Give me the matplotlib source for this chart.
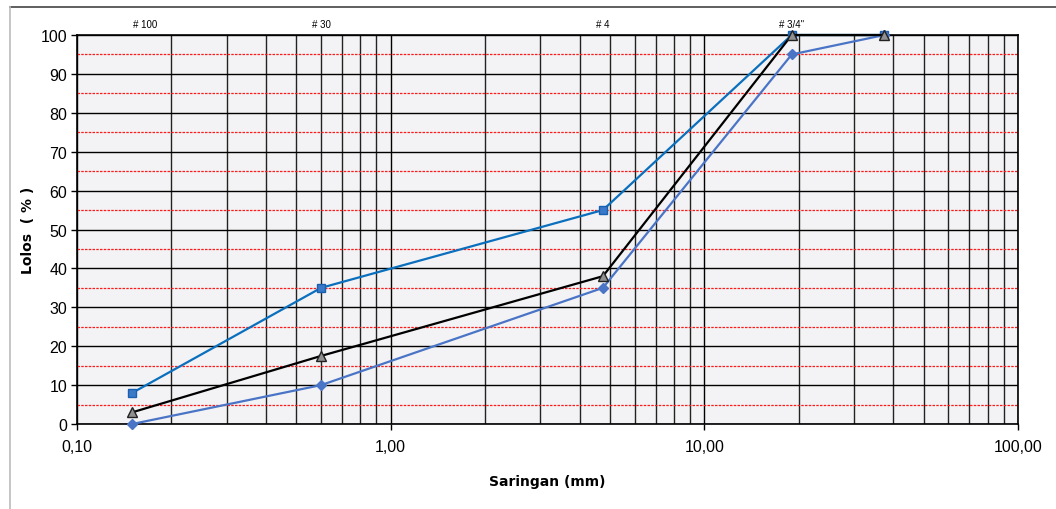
"""
Grafik gradasi agregat - persen lolos vs ukuran saringan (skala log).
"""
import numpy as np
import matplotlib.pyplot as plt
from matplotlib.lines import Line2D
from matplotlib.ticker import FixedLocator, FuncFormatter, LogLocator

# ukuran saringan (mm)
sieve_mm = [0.15, 0.6, 4.75, 19.0, 37.5]
sieve_names = ["# 100", "# 30", "# 4", "# 3/4\""]
sieve_label_x = [0.165, 0.6, 4.75, 19.0]

# persen lolos
batas_atas = [8, 35, 55, 100, 100]
gabungan = [3, 17.5, 38, 100, 100]
batas_bawah = [0, 10, 35, 95, 100]

W, H = 1056, 510
fig = plt.figure(figsize=(W / 100, H / 100), dpi=100, facecolor="white")
ax = fig.add_axes([77 / W, 1 - 425 / H, (1018 - 77) / W, (425 - 36) / H])
ax.set_facecolor("#f3f3f5")

ax.set_xscale("log")
ax.set_xlim(0.1, 100)
ax.set_ylim(0, 100)

# grid: vertikal tiap pembagian log, horizontal hitam tiap 10 dan merah tiap 5
ax.xaxis.set_major_locator(FixedLocator([0.1, 1, 10, 100]))
ax.xaxis.set_minor_locator(LogLocator(base=10, subs=np.arange(2, 10)))
ax.xaxis.set_major_formatter(FuncFormatter(lambda v, p: f"{v:.2f}".replace(".", ",")))
ax.xaxis.set_minor_formatter(FuncFormatter(lambda v, p: ""))
ax.set_yticks(np.arange(0, 101, 10))
ax.set_yticks(np.arange(5, 100, 10), minor=True)

ax.grid(True, which="major", axis="both", color="black", linewidth=1.0)
ax.grid(True, which="minor", axis="x", color="#222222", linewidth=1.0)
ax.grid(True, which="minor", axis="y", color="#ff1a1a", linewidth=0.9,
        linestyle=(0, (2, 1)))
ax.set_axisbelow(True)

ax.tick_params(axis="both", which="major", direction="out", length=4, width=1,
               labelsize=11.5, colors="black")
ax.tick_params(axis="both", which="minor", length=0)
ax.tick_params(axis="x", which="major", pad=7)
ax.tick_params(axis="y", which="major", pad=3)
for lbl in ax.get_xticklabels() + ax.get_yticklabels():
    lbl.set_family("Liberation Sans")
for s in ax.spines.values():
    s.set_color("black")
    s.set_linewidth(1.2)

ax.plot(sieve_mm, batas_atas, color="#0a6fbd", linewidth=1.6, marker="s",
        markersize=6, markerfacecolor="#3a78c8", markeredgecolor="#1a60b0",
        clip_on=False, zorder=4)
ax.plot(sieve_mm, batas_bawah, color="#4a74c6", linewidth=1.6, marker="D",
        markersize=5, markerfacecolor="#4a74c6", markeredgecolor="#4a74c6",
        clip_on=False, zorder=4)
ax.plot(sieve_mm, gabungan, color="black", linewidth=1.6, marker="^",
        markersize=7, markerfacecolor="#909090", markeredgecolor="#222222",
        clip_on=False, zorder=5)

for xl, name in zip(sieve_label_x, sieve_names):
    ax.text(xl, 1.015, name, transform=ax.get_xaxis_transform(),
            ha="center", va="bottom", fontsize=7, family="Liberation Sans")

ax.set_xlabel("Saringan (mm)", fontsize=10, fontweight="bold", labelpad=14)
ax.set_ylabel("Lolos  ( % )", fontsize=10, fontweight="bold", labelpad=4)

# bingkai luar grafik
fig.add_artist(Line2D([10 / W, 1], [1 - 8 / H, 1 - 8 / H], color="#444444", linewidth=1.2))
fig.add_artist(Line2D([10 / W, 10 / W], [0, 1 - 8 / H], color="#bbbbbb", linewidth=1.2))

fig.savefig("out.png", dpi=100, facecolor="white")
